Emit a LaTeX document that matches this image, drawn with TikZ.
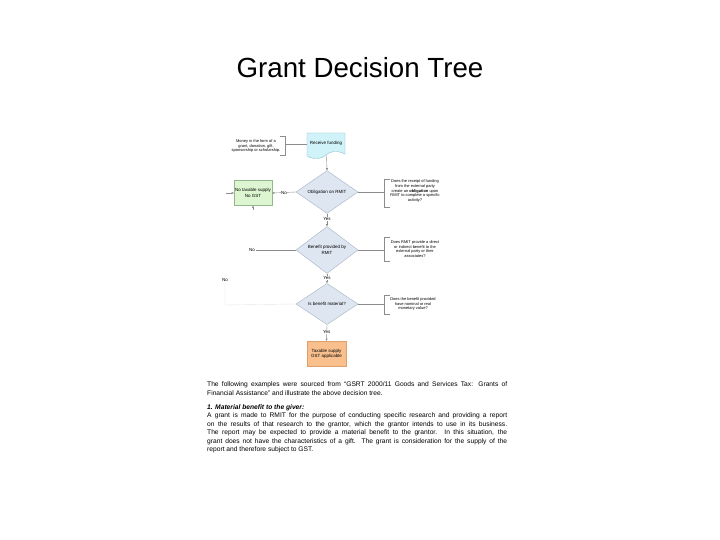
\documentclass[tikz,border=0pt]{standalone}
\usepackage{fontspec}
\setmainfont{Liberation Sans}
\usetikzlibrary{shapes.geometric,arrows.meta}
\definecolor{linegray}{HTML}{8C8C8C}
\definecolor{faintgray}{HTML}{E6E6E6}
\definecolor{diafill}{HTML}{DDE6F1}
\definecolor{diagray}{HTML}{A7B3C2}
\definecolor{cyanfill}{HTML}{CFF3F8}
\definecolor{cyangray}{HTML}{8FC3CC}
\definecolor{greenfill}{HTML}{DDF5D0}
\definecolor{greengray}{HTML}{93B88C}
\definecolor{orangefill}{HTML}{F9C08E}
\definecolor{orangegray}{HTML}{DDA06C}
\begin{document}
\begin{tikzpicture}[x=1bp,y=-1bp,
  line/.style={draw=linegray,line width=0.4bp},
  arr/.style={line,-{Triangle[length=2.2bp,width=2bp]}},
  tiny/.style={font=\fontsize{4.5}{5.3}\selectfont},
  notetext/.style={font=\fontsize{4}{4.6}\selectfont,align=center,inner sep=0pt},
  lbl/.style={tiny,fill=white,inner sep=0.6bp},
  dec/.style={diamond,draw=diagray,fill=diafill,line width=0.4bp,
    minimum width=62bp,minimum height=40bp,inner sep=0pt,tiny,align=center},
  outbox/.style={rectangle,line width=0.4bp,minimum width=38bp,
    minimum height=25bp,inner sep=0pt,tiny,align=center}
]
\useasboundingbox (0,0) rectangle (720,540);
\fill[white] (0,0) rectangle (720,540);

% title
\node[font=\fontsize{27.8}{30}\selectfont] (title) at (360,68) {Grant Decision Tree};

% receive funding (document shape)
\filldraw[fill=cyanfill,draw=cyangray,line width=0.4bp]
  (307,133) -- (345,133) -- (345,154)
  .. controls (337,150) and (330,151) .. (326,155)
  .. controls (322,159) and (314,160) .. (307,156) -- cycle;
\node[tiny] (rf) at (326,143) {Receive funding};
\coordinate (rfb) at (326.5,155.5);

% top-left note
\node[notetext] (money) at (256,146) {Money in the form of a\\grant, donation, gift,\\sponsorship or scholarship.};
\coordinate (mb) at (285,144);
\draw[line] (280,136) -- (285,136) -- (285,155) -- (280,155);
\draw[line] (mb) -- (307,144);

% decisions
\node[dec] (d1) at (327,192) {Obligation on RMIT};
\node[dec] (d2) at (327,250) {Benefit provided by\\RMIT};
\node[dec] (d3) at (327,304) {Is benefit material?};

% outcomes
\node[outbox,fill=greenfill,draw=greengray] (nogst) at (253,193) {No taxable supply\\No GST};
\node[outbox,fill=orangefill,draw=orangegray,minimum width=39bp] (tax) at (326.5,353.5) {Taxable supply\\GST applicable};

% flow
\draw[arr] (rfb) -- (d1.north);
\draw[arr] (d1.south) -- node[lbl,pos=0.45] {Yes} (d2.north);
\draw[arr] (d2.south) -- node[lbl,pos=0.45] {Yes} (d3.north);
\draw[arr] (d3.south) -- node[lbl,pos=0.45] {Yes} (tax.north);
\draw[arr] (d1.west) -- node[lbl] {No} (nogst.east);

\coordinate (inl) at (226,193);
\coordinate (inb) at (253,210);
\draw[arr] (inl) -- (nogst.west);
\draw[arr] (inb) -- (nogst.south);

\node[tiny,inner sep=0.5bp] (no2) at (252,250) {No};
\draw[line] (d2.west) -- (no2.east);

\node[tiny,inner sep=0.5bp] (no3) at (225,280) {No};
\coordinate (c3) at (225,305);
\draw[draw=faintgray,line width=0.4bp] (d3.west) -- (c3) -- (no3.south);

% right notes
\coordinate (b1) at (384,192);
\draw[line] (d1.east) -- (b1);
\draw[line] (390,179) -- (384,179) -- (384,207) -- (390,207);
\node[notetext] (n1) at (415,191) {Does the receipt of funding\\from the external party\\create an \textbf{obligation} upon\\RMIT to complete a specific\\activity?};

\coordinate (b2) at (384,250);
\draw[line] (d2.east) -- (b2);
\draw[line] (390,237) -- (384,237) -- (384,261) -- (390,261);
\node[notetext] (n2) at (415,249) {Does RMIT provide a direct\\or indirect benefit to the\\external party or their\\associates?};

\coordinate (b3) at (384,304);
\draw[line] (d3.east) -- (b3);
\draw[line] (390,295) -- (384,295) -- (384,314) -- (390,314);
\node[notetext] (n3) at (413,304) {Does the benefit provided\\have nominal or real\\monetary value?};

% paragraph
\node[anchor=north west,inner sep=0pt,text width=300bp,align=justify,
  font=\fontsize{6.7}{8.5}\selectfont] (para) at (207,381.5) {%
The following examples were sourced from ``GSRT 2000/11 Goods and Services Tax: Grants of\linebreak
Financial Assistance'' and illustrate the above decision tree.\par\vspace{6bp}
\textbf{\textit{1. Material benefit to the giver:}}\par
A grant is made to RMIT for the purpose of conducting specific research and providing a report\linebreak
on the results of that research to the grantor, which the grantor intends to use in its business.\linebreak
The report may be expected to provide a material benefit to the grantor. In this situation, the\linebreak
grant does not have the characteristics of a gift.\ \ The grant is consideration for the supply of the\linebreak
report and therefore subject to GST.};
\end{tikzpicture}
\end{document}
